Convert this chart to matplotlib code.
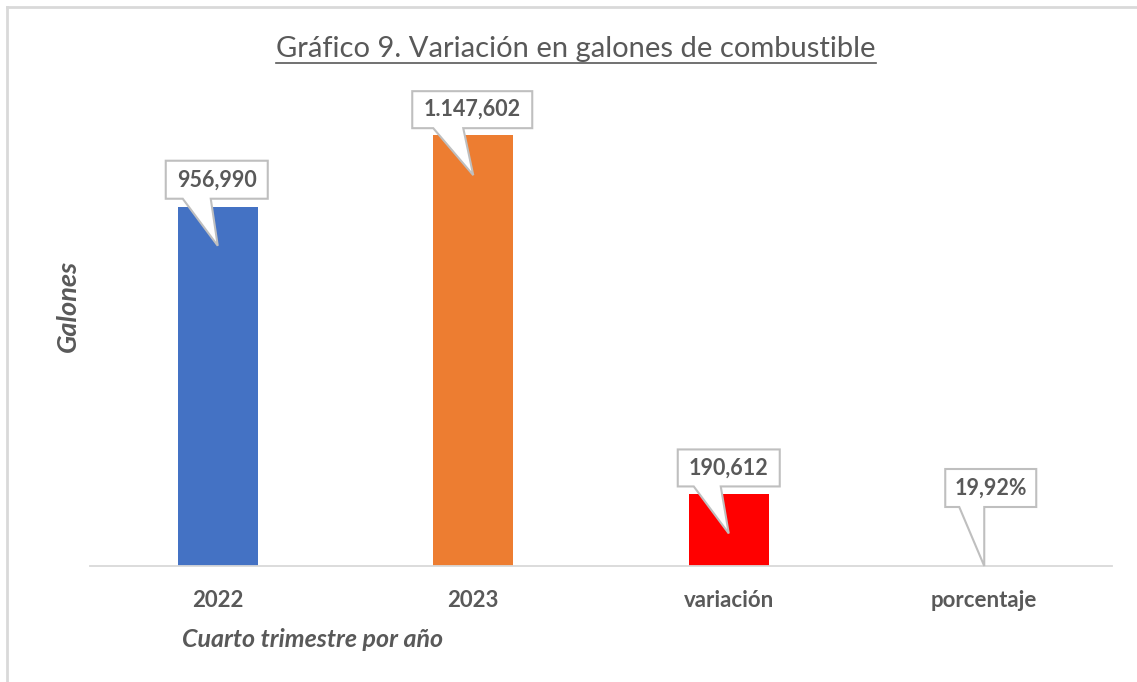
import numpy as np
import matplotlib.pyplot as plt
import matplotlib.patches as mpatches
import matplotlib.transforms as mtransforms

plt.rcParams['font.family'] = ['Lato', 'DejaVu Sans']

categorias = ['2022', '2023', 'variación', 'porcentaje']
valores = [956990, 1147602, 190612, 0.1992]
etiquetas = ['956,990', '1.147,602', '190,612', '19,92%']
colores = ['#4472C4', '#ED7D31', '#FF0000', '#A5A5A5']

gris = '#595959'

fig = plt.figure(figsize=(11.37, 6.82), dpi=100)
W, H = 1137, 682

# plot area: pixels 90..1112 wide, baseline at y=566
ax = fig.add_axes([90 / W, 1 - 566 / H, (1112 - 90) / W, 450.5 / H])
x = np.arange(len(categorias))
ax.bar(x, valores, width=0.313, color=colores)
ax.set_xlim(-0.5, len(categorias) - 0.5)
ax.set_ylim(0, 1200000)
for s in ['top', 'right', 'left']:
    ax.spines[s].set_visible(False)
ax.spines['bottom'].set_color('#D9D9D9')
ax.spines['bottom'].set_linewidth(1.3)
ax.set_yticks([])
ax.set_xticks(x)
ax.set_xticklabels(categorias, fontsize=16, fontweight='bold', color=gris)
ax.tick_params(axis='x', length=0, pad=17)

# callouts (offsets in pixels relative to top of bar, y up)
# (box left, box right, box bottom, box top, tail left, tail right, tip)
formas = [
    (-52, 50, 8, 46, -35, -7, -39),
    (-61, 59, 7, 44, -40, -10, -40),
    (-51, 51, 8, 45, -35, -8, -39),
    (-39, 52, 59, 97, -25, 0, 0),
]
fig.canvas.draw()
for i, (v, lab, f) in enumerate(zip(valores, etiquetas, formas)):
    bx0, bx1, by0, by1, t0, t1, tip = f
    px, py = ax.transData.transform((i, v))
    verts = [
        (bx0, by0), (t0, by0), (0, tip), (t1, by0), (bx1, by0),
        (bx1, by1), (bx0, by1),
    ]
    verts = [(px + a, py + b) for a, b in verts]
    poly = mpatches.Polygon(verts, closed=True, facecolor='white',
                            edgecolor='#BFBFBF', linewidth=1.5,
                            transform=mtransforms.IdentityTransform(),
                            zorder=5)
    fig.add_artist(poly)
    cx = px + (bx0 + bx1) / 2
    cy = py + (by0 + by1) / 2
    fig.text(cx / W, cy / H, lab, ha='center', va='center', fontsize=15.5,
             fontweight='bold', color=gris, zorder=6)

titulo = fig.text(576 / W, 1 - 57 / H,
                  'Gráfico 9. Variación en galones de combustible',
                  ha='center', va='baseline', fontsize=21, color=gris)
fig.canvas.draw()
bb = titulo.get_window_extent()
# underline of the title
yl = 1 - 62.5 / H
fig.add_artist(plt.Line2D([bb.x0 / W, bb.x1 / W], [yl, yl],
                          color=gris, linewidth=1.2))

fig.text(68 / W, 1 - 306 / H, 'Galones', rotation=90, ha='center', va='center',
         fontsize=19.5, fontweight='bold', fontstyle='italic', color=gris)
fig.text(182 / W, 1 - 647 / H, 'Cuarto trimestre por año', ha='left',
         va='baseline', fontsize=18, fontweight='bold', fontstyle='italic',
         color=gris)

# chart frame
fig.add_artist(plt.Line2D([7 / W, 7 / W], [0, 1 - 7 / H], color='#D9D9D9',
                          linewidth=2))
fig.add_artist(plt.Line2D([7 / W, 1], [1 - 7 / H, 1 - 7 / H],
                          color='#D9D9D9', linewidth=2))

fig.savefig('out.png', dpi=100)
